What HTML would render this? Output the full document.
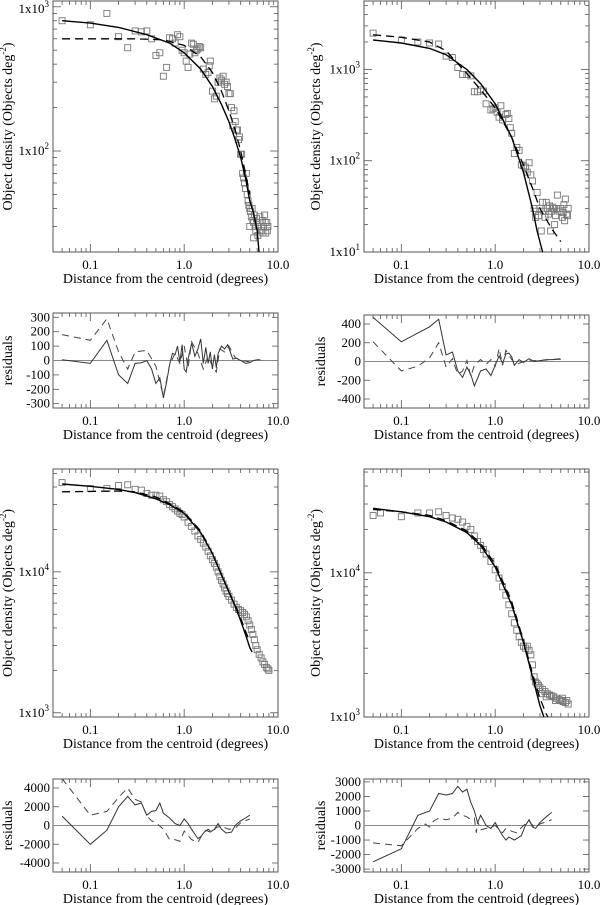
<!DOCTYPE html>
<html><head><meta charset="utf-8"><style>
html,body{margin:0;padding:0;background:#fff}
svg{display:block}
svg text{font-family:"Liberation Serif","DejaVu Serif",serif}
</style></head><body>
<svg id="fig" width="600" height="905" viewBox="0 0 600 905" xmlns="http://www.w3.org/2000/svg" font-family="Liberation Serif, DejaVu Serif, serif"></svg>
<script>
// ---------- DATA ----------
const ptsA = [[0.05,800],[0.1,750],[0.15,900],[0.2,620],[0.25,520],[0.3,680],[0.35,670],[0.4,680],[0.45,600],[0.5,460],[0.55,480],[0.6,330],[0.65,380],[0.7,610],[0.75,600],[0.8,560],[0.85,640],[0.9,620],[0.95,500],[1.0,480],[1.05,420],[1.1,380],[1.15,470],[1.2,560],[1.25,550],[1.3,480],[1.35,500],[1.4,510],[1.45,530],[1.5,520],[1.6,370],[1.7,340],[1.8,350],[1.85,390],[1.9,420],[2.0,260],[2.1,230],[2.2,240],[2.3,300],[2.4,320],[2.5,310],[2.6,330],[2.7,290],[2.8,300],[2.9,280],[3.0,250],[3.1,250],[3.2,200],[3.3,150],[3.4,190],[3.5,160],[3.6,140],[3.7,140],[3.8,120],[3.9,125],[4.0,95],[4.1,95],[4.2,70],[4.3,65],[4.4,60],[4.5,55],[4.6,70],[4.7,50],[4.8,45],[4.9,42],[5.0,40],[5.1,38],[5.2,35],[5.3,40],[5.4,33],[5.5,32],[5.6,36],[5.7,30],[5.8,28],[5.9,34],[6.0,32],[6.2,30],[6.4,35],[6.6,28],[6.8,33],[7.0,30],[7.2,36],[7.4,27],[7.6,32],[7.8,30],[5.5,25],[6.1,26],[6.9,27],[7.3,32],[5.0,30],[7.7,28]];
const fitA = [[0.05,800],[0.1,770],[0.2,720],[0.4,640],[0.7,560],[1,480],[1.5,370],[2,280],[2.5,210],[3,160],[3.5,120],[4,90],[4.5,65],[5,45],[5.5,37],[6,28],[6.2,22],[6.3,19]];
const dashA = [[0.05,600],[0.3,600],[0.6,590],[1,540],[1.5,450],[2,350],[2.5,260],[3,190],[3.5,140],[4,100],[4.5,70],[5,50]];
const resA = [[0.05,5],[0.1,-20],[0.15,140],[0.2,-100],[0.25,-160],[0.3,-20],[0.35,-15],[0.4,0],[0.45,-60],[0.5,-160],[0.55,-120],[0.6,-260],[0.65,-150],[0.7,-30],[0.75,50],[0.8,40],[0.85,100],[0.9,-10],[0.95,110],[1.0,-60],[1.05,-80],[1.1,10],[1.2,120],[1.3,30],[1.4,80],[1.5,150],[1.6,-20],[1.7,90],[1.8,-20],[1.9,60],[2.0,-60],[2.1,40],[2.2,-50],[2.3,50],[2.5,100],[2.7,80],[2.9,110],[3.1,60],[3.3,10],[3.6,15],[4,0],[4.5,-20],[5,-15],[5.5,0],[6,5],[6.5,5]];
const resDashA = [[0.05,180],[0.1,140],[0.15,290],[0.2,60],[0.25,-60],[0.3,60],[0.4,70],[0.5,-40],[0.6,-250],[0.7,-30],[0.8,50],[0.9,-20],[1.0,100],[1.1,-50],[1.2,130],[1.4,50],[1.6,-60],[1.8,30],[2.0,-40],[2.2,-80],[2.4,80],[2.7,60],[3,100],[3.5,20],[4,0],[5,-10],[6,5]];

const ptsB = [[0.05,2500],[0.1,2100],[0.15,2000],[0.2,1950],[0.25,1900],[0.3,1400],[0.35,1350],[0.4,1050],[0.45,880],[0.5,880],[0.55,850],[0.6,570],[0.65,570],[0.7,600],[0.75,580],[0.8,420],[0.9,360],[0.95,370],[1.0,380],[1.05,340],[1.1,300],[1.15,400],[1.2,280],[1.3,320],[1.35,330],[1.4,290],[1.45,230],[1.5,200],[1.6,120],[1.7,140],[1.8,130],[1.9,90],[2.0,88],[2.1,85],[2.2,75],[2.3,95],[2.4,70],[2.5,60],[2.6,30],[2.7,28],[2.8,45],[2.9,25],[3.0,30],[3.1,17],[3.2,35],[3.3,28],[3.4,24],[3.5,35],[3.6,30],[3.7,26],[3.8,32],[3.9,17],[4.0,28],[4.1,31],[4.2,30],[4.3,20],[4.4,25],[4.6,42],[4.8,28],[5.0,30],[5.2,24],[5.4,33],[5.5,22],[5.6,38],[5.8,26],[6.0,30],[4.5,30],[5.3,27],[5.9,25],[2.7,24]];
const fitB = [[0.05,2100],[0.1,1950],[0.2,1700],[0.3,1450],[0.5,1000],[0.7,700],[1,420],[1.5,180],[2,75],[2.5,30],[2.8,17],[3.2,10]];
const dashB = [[0.05,2400],[0.1,2250],[0.2,2000],[0.3,1600],[0.5,900],[0.7,600],[1,380],[1.5,180],[2,90],[2.5,50],[3,30],[4,18],[5,13]];
const resB = [[0.05,470],[0.1,210],[0.2,370],[0.25,450],[0.3,70],[0.35,100],[0.4,-100],[0.45,-170],[0.5,-60],[0.55,-140],[0.6,-260],[0.7,-100],[0.8,-80],[0.9,-150],[1.0,-40],[1.1,60],[1.2,-20],[1.3,80],[1.4,90],[1.5,50],[1.6,-40],[1.8,20],[2,-10],[2.3,30],[2.6,0],[3,10],[3.5,20],[4,20],[5,25]];
const resDashB = [[0.05,210],[0.1,-100],[0.15,-50],[0.2,40],[0.25,200],[0.3,-60],[0.35,30],[0.4,-140],[0.45,-100],[0.5,10],[0.55,-160],[0.6,-40],[0.7,20],[0.8,-30],[0.9,20],[1.0,-50],[1.1,140],[1.2,-40],[1.3,120],[1.5,20],[1.7,-30],[2,0],[2.5,10],[3,10],[4,20],[5,30]];

const ptsC = [[0.05,43000],[0.1,39000],[0.15,39000],[0.2,41000],[0.25,41500],[0.3,38500],[0.35,38000],[0.4,36000],[0.45,35000],[0.5,35000],[0.55,34500],[0.6,32500],[0.65,31500],[0.7,30000],[0.75,29000],[0.8,28000],[0.85,27000],[0.9,26000],[0.95,25500],[1.0,24500],[1.1,22500],[1.2,21000],[1.3,19500],[1.4,18000],[1.5,17000],[1.6,16000],[1.7,15000],[1.8,14000],[1.9,13000],[2.0,12200],[2.1,11500],[2.2,10800],[2.3,10000],[2.4,9300],[2.5,8700],[2.6,8200],[2.7,7700],[2.8,7300],[2.9,7000],[3.0,6700],[3.2,6300],[3.4,5900],[3.6,5600],[3.8,5400],[4.0,5300],[4.2,5150],[4.4,5000],[4.6,4800],[4.8,4500],[5.0,4200],[5.2,3900],[5.4,3600],[5.6,3300],[5.8,3000],[6.0,2800],[6.3,2600],[6.6,2450],[6.9,2300],[7.2,2200],[7.5,2100],[7.8,2050],[8.0,2000]];
const fitC = [[0.05,42000],[0.1,40500],[0.2,38500],[0.3,36500],[0.5,33000],[0.7,30000],[1.0,26000],[1.5,19000],[2.0,13500],[2.5,9500],[3.0,7200],[3.5,5700],[4.0,4500],[4.5,3600],[5.0,2900],[5.3,2700]];
const dashC = [[0.05,37000],[0.2,37500],[0.3,37000],[0.5,34000],[0.7,30500],[1.0,26500],[1.5,19500],[2.0,13500],[2.5,9500],[3.0,7200],[3.5,5800],[4.0,4700],[4.5,3800],[5.0,3200]];
const resC = [[0.05,1000],[0.1,-2000],[0.15,-500],[0.2,2000],[0.25,3100],[0.3,2200],[0.35,2400],[0.4,1100],[0.45,1500],[0.5,1600],[0.55,2400],[0.6,1300],[0.7,800],[0.8,200],[0.9,0],[1.0,700],[1.1,200],[1.2,-400],[1.4,-1400],[1.5,-1200],[1.7,-500],[1.9,-700],[2.1,-400],[2.3,200],[2.5,-400],[2.8,-800],[3.2,-700],[3.5,0],[4,500],[4.5,800],[5,1100]];
const resDashC = [[0.05,5000],[0.1,1100],[0.15,1500],[0.2,3000],[0.25,4000],[0.3,2800],[0.35,2500],[0.4,1000],[0.45,500],[0.5,300],[0.6,-400],[0.7,-1500],[0.8,-1500],[0.9,-1700],[1.0,-600],[1.2,-1500],[1.4,-1800],[1.6,-800],[1.8,-400],[2.0,-700],[2.2,-200],[2.5,-100],[3,-400],[3.5,-300],[4,300],[5,700]];

const ptsD = [[0.05,25000],[0.06,26000],[0.1,24500],[0.15,26000],[0.2,26000],[0.25,26500],[0.3,25000],[0.35,24000],[0.4,23500],[0.45,22500],[0.5,21000],[0.55,20000],[0.6,18000],[0.65,16500],[0.7,15500],[0.75,14500],[0.8,13500],[0.9,12000],[1.0,10500],[1.1,9200],[1.2,8000],[1.3,7000],[1.4,6000],[1.5,5200],[1.6,4500],[1.7,4000],[1.8,3600],[1.9,3300],[2.0,3100],[2.1,3000],[2.2,3100],[2.3,2900],[2.4,2700],[2.5,2300],[2.6,1900],[2.7,1750],[2.8,1700],[2.9,1650],[3.0,1600],[3.2,1550],[3.4,1500],[3.6,1450],[3.8,1420],[4.0,1400],[4.2,1380],[4.5,1350],[4.8,1320],[5.0,1300],[5.3,1280],[5.6,1260],[6.0,1230],[3.1,1450],[3.5,1380],[4.4,1300],[5.2,1350],[5.8,1300]];
const fitD = [[0.05,28000],[0.1,26500],[0.2,24500],[0.3,22500],[0.5,19000],[0.7,15500],[1.0,11000],[1.5,6000],[2.0,3300],[2.5,1900],[3.0,1200],[3.4,950]];
const dashD = [[0.05,27500],[0.1,26500],[0.2,25000],[0.3,23000],[0.5,19500],[0.7,16000],[1.0,11500],[1.5,6300],[2.0,3400],[2.5,2000],[3.0,1350],[3.5,1050],[3.8,950]];
const resD = [[0.05,-2500],[0.1,-1600],[0.15,700],[0.2,1000],[0.25,2200],[0.3,2100],[0.35,2200],[0.4,2700],[0.45,2300],[0.5,2500],[0.55,1600],[0.6,1000],[0.65,200],[0.7,700],[0.8,0],[0.9,-200],[1.0,200],[1.1,-300],[1.2,-700],[1.3,-1000],[1.4,-800],[1.6,-1000],[1.7,-900],[1.9,-700],[2.1,0],[2.3,400],[2.5,-100],[2.7,-200],[3.0,200],[3.5,600],[4,900]];
const resDashD = [[0.05,-1200],[0.1,-1400],[0.15,-200],[0.18,100],[0.2,-100],[0.22,300],[0.25,500],[0.3,400],[0.35,500],[0.4,900],[0.45,700],[0.5,600],[0.55,400],[0.6,500],[0.63,-500],[0.65,300],[0.7,-300],[0.8,-200],[0.9,-100],[1.0,0],[1.2,-500],[1.3,-200],[1.5,-400],[1.7,-500],[2.0,0],[2.3,300],[2.6,-100],[3,100],[4,400]];

const xTickVals = [0.1, 1, 10];
const xTickLabels = ["0.1", "1.0", "10.0"];
const xTitle = "Distance from the centroid (degrees)";

// ---------- RENDER ----------
const NS = "http://www.w3.org/2000/svg";
const svg = document.getElementById('fig');
const FONT = '"Liberation Serif", "DejaVu Serif", serif';
function mk(tag, attrs, parent){const e=document.createElementNS(NS,tag);for(const k in attrs)e.setAttribute(k,attrs[k]);if(tag==='text')e.style.fontFamily=FONT;(parent||svg).appendChild(e);return e;}
const XLMIN=Math.log10(0.04), XLMAX=1;

function axisX(f){return v=>f.x0+(Math.log10(v)-XLMIN)/(XLMAX-XLMIN)*(f.x1-f.x0);}
function axisYlog(f,lo,hi){return v=>f.y1-(Math.log10(v)-lo)/(hi-lo)*(f.y1-f.y0);}
function axisYlin(f,lo,hi){return v=>f.y1-(v-lo)/(hi-lo)*(f.y1-f.y0);}

function frame(g,f,X){
  const r=mk('rect',{x:f.x0,y:f.y0,width:f.x1-f.x0,height:f.y1-f.y0,fill:'none',stroke:'#555','stroke-width':1},g);
  
  
  for(let d=-2;d<=1;d++){for(let m=1;m<10;m++){const v=m*Math.pow(10,d);if(Math.log10(v)<XLMIN||Math.log10(v)>XLMAX)continue;
    const x=X(v), L=m===1?8:4;
    mk('line',{x1:x,x2:x,y1:f.y1,y2:f.y1-L,stroke:'#555','stroke-width':0.8},g);
    mk('line',{x1:x,x2:x,y1:f.y0,y2:f.y0+L,stroke:'#555','stroke-width':0.8},g);}}
  xTickVals.forEach((v,i)=>{const t=mk('text',{x:X(v),y:f.y1+17,'text-anchor':'middle','font-size':13},g);t.textContent=xTickLabels[i];
    
    });
  const tt=mk('text',{x:(f.x0+f.x1)/2,y:f.y1+31,'text-anchor':'middle','font-size':14},g);tt.textContent=xTitle;
  
  
}
function pathOf(data,X,Y){return data.map((p,i)=>(i?'L':'M')+X(p[0]).toFixed(1)+','+Y(p[1]).toFixed(1)).join('');}

function mainPanel(name,f,lo,hi,pts,fit,dash){
  const g=mk('g',{});
  
  
  const X=axisX(f), Y=axisYlog(f,lo,hi);
  frame(g,f,X);
  for(let d=0;d<=5;d++){for(let m=1;m<10;m++){const lv=Math.log10(m)+d;if(lv<lo||lv>hi)continue;const y=Y(Math.pow(10,lv)),L=m===1?8:4;
    mk('line',{x1:f.x0,x2:f.x0+L,y1:y,y2:y,stroke:'#555','stroke-width':0.8},g);
    mk('line',{x1:f.x1,x2:f.x1-L,y1:y,y2:y,stroke:'#555','stroke-width':0.8},g);}
    if(d>=lo-0.02&&d<=hi+0.02){const t=mk('text',{x:f.x0-4,y:Math.min(Math.max(Y(Math.pow(10,d)),f.y0+8),f.y1)+4,'text-anchor':'end','font-size':13},g);
      t.innerHTML='1x10<tspan dy="-6" font-size="9">'+d+'</tspan>';
      
      }}
  const cx=f.x0-(f.x0>300?44:41), cy=(f.y0+f.y1)/2;
  const yt=mk('text',{x:cx,y:cy,'text-anchor':'middle','font-size':14,transform:`rotate(-90 ${cx} ${cy})`},g);
  yt.innerHTML='Object density (Objects deg<tspan dy="-6" font-size="9">-2</tspan><tspan dy="6">)</tspan>';
  
  
  const cl=mk('clipPath',{id:'c'+name},g);
  mk('rect',{x:f.x0,y:f.y0,width:f.x1-f.x0,height:f.y1-f.y0},cl);
  const inner=mk('g',{'clip-path':`url(#c${name})`},g);
  pts.forEach(p=>{const s=mk('rect',{x:X(p[0])-3,y:Y(p[1])-3,width:6,height:6,fill:'none',stroke:'#777','stroke-width':0.9},inner);
    
    });
  const l1=mk('path',{d:pathOf(fit,X,Y),fill:'none',stroke:'#000','stroke-width':1.4},inner);
  
  
  const l2=mk('path',{d:pathOf(dash,X,Y),fill:'none',stroke:'#000','stroke-width':1.3,'stroke-dasharray':'8,5'},inner);
  
  
}
function resPanel(name,f,lo,hi,ticks,res,resd){
  const g=mk('g',{});
  
  
  const X=axisX(f), Y=axisYlin(f,lo,hi);
  frame(g,f,X);
  ticks.forEach(v=>{const y=Y(v);
    mk('line',{x1:f.x0,x2:f.x0+6,y1:y,y2:y,stroke:'#555','stroke-width':0.8},g);
    mk('line',{x1:f.x1,x2:f.x1-6,y1:y,y2:y,stroke:'#555','stroke-width':0.8},g);
    const t=mk('text',{x:f.x0-3,y:y+4,'text-anchor':'end','font-size':13},g);t.textContent=String(v);
    
    });
  const cx=f.x0-(f.x0>300?39:41), cy=(f.y0+f.y1)/2;
  const yt=mk('text',{x:cx,y:cy,'text-anchor':'middle','font-size':14,transform:`rotate(-90 ${cx} ${cy})`},g);
  yt.textContent='residuals';
  
  
  const z=mk('line',{x1:f.x0,x2:f.x1,y1:Y(0),y2:Y(0),stroke:'#888','stroke-width':1},g);
  
  
  const cl=mk('clipPath',{id:'c'+name},g);
  mk('rect',{x:f.x0,y:f.y0,width:f.x1-f.x0,height:f.y1-f.y0},cl);
  const inner=mk('g',{'clip-path':`url(#c${name})`},g);
  const l1=mk('path',{d:pathOf(res,X,Y),fill:'none',stroke:'#333','stroke-width':1},inner);
  
  
  const l2=mk('path',{d:pathOf(resd,X,Y),fill:'none',stroke:'#444','stroke-width':1,'stroke-dasharray':'7,5'},inner);
  
  
}

mainPanel('panel-a',{x0:53,x1:278,y0:1,y1:252},1.30,3.04,ptsA,fitA,dashA);
mainPanel('panel-b',{x0:364,x1:589,y0:1,y1:252},1.0,3.75,ptsB,fitB,dashB);
mainPanel('panel-c',{x0:53,x1:278,y0:469,y1:717},2.97,4.73,ptsC,fitC,dashC);
mainPanel('panel-d',{x0:364,x1:589,y0:469,y1:717},3.0,4.72,ptsD,fitD,dashD);
resPanel('residual-a',{x0:53,x1:278,y0:313,y1:408},-330,330,[300,200,100,0,-100,-200,-300],resA,resDashA);
resPanel('residual-b',{x0:364,x1:589,y0:315,y1:408},-496,496,[400,200,0,-200,-400],resB,resDashB);
resPanel('residual-c',{x0:53,x1:278,y0:779,y1:872},-4960,4960,[4000,2000,0,-2000,-4000],resC,resDashC);
resPanel('residual-d',{x0:364,x1:589,y0:779,y1:872},-3200,3200,[3000,2000,1000,0,-1000,-2000,-3000],resD,resDashD);
</script>
</body></html>
